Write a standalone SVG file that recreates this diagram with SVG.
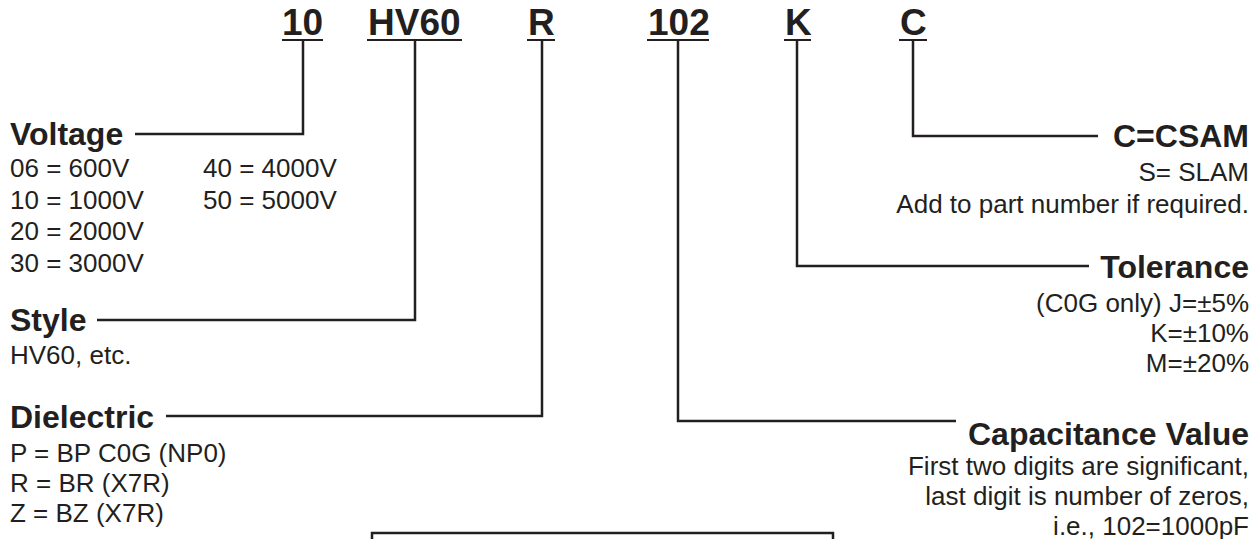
<svg xmlns="http://www.w3.org/2000/svg" width="1259" height="539" viewBox="0 0 1259 539">
<style>
text{font-family:"Liberation Sans",Arial,sans-serif;fill:#231f20}
.code{font-size:37px;font-weight:bold}
.hd{font-size:32px;font-weight:bold}
.bd{font-size:26px}
.r{text-anchor:end}
.ln{fill:none;stroke:#231f20;stroke-width:2.5}
.ul{fill:none;stroke:#231f20;stroke-width:2}
</style>
<rect width="1259" height="539" fill="#fff"/>
<g id="code">
<text class="code" x="282" y="35">10</text>
<text class="code" x="368" y="35">HV60</text>
<text class="code" x="528" y="35">R</text>
<text class="code" x="648" y="35">102</text>
<text class="code" x="785" y="35">K</text>
<text class="code" x="900" y="35">C</text>
<path class="ul" d="M282,40H323M367,40H462M527,40H555M647,40H709M784,40H811M899,40H927"/>
</g>
<g id="connectors">
<path class="ln" d="M303,40V134H135"/>
<path class="ln" d="M415,40V320H97"/>
<path class="ln" d="M542,40V416H166"/>
<path class="ln" d="M678,40V421H956"/>
<path class="ln" d="M797,40V266H1089"/>
<path class="ln" d="M913,40V136H1098"/>
</g>
<g id="voltage">
<text class="hd" x="10" y="145">Voltage</text>
<text class="bd" x="10" y="177">06 = 600V</text>
<text class="bd" x="10" y="209">10 = 1000V</text>
<text class="bd" x="10" y="240">20 = 2000V</text>
<text class="bd" x="10" y="272">30 = 3000V</text>
<text class="bd" x="203" y="177">40 = 4000V</text>
<text class="bd" x="203" y="209">50 = 5000V</text>
</g>
<g id="style">
<text class="hd" x="10" y="331">Style</text>
<text class="bd" x="10" y="364">HV60, etc.</text>
</g>
<g id="dielectric">
<text class="hd" x="10" y="427.5">Dielectric</text>
<text class="bd" x="10" y="462">P = BP C0G (NP0)</text>
<text class="bd" x="10" y="492">R = BR (X7R)</text>
<text class="bd" x="10" y="522">Z = BZ (X7R)</text>
</g>
<g id="csam">
<text class="hd r" x="1249" y="147">C=CSAM</text>
<text class="bd r" x="1249" y="181">S= SLAM</text>
<text class="bd r" x="1249" y="213">Add to part number if required.</text>
</g>
<g id="tolerance">
<text class="hd r" x="1249" y="277.5">Tolerance</text>
<text class="bd r" x="1249" y="312">(C0G only) J=±5%</text>
<text class="bd r" x="1249" y="342">K=±10%</text>
<text class="bd r" x="1249" y="372">M=±20%</text>
</g>
<g id="capacitance">
<text class="hd r" x="1249" y="445">Capacitance Value</text>
<text class="bd r" x="1249" y="475">First two digits are significant,</text>
<text class="bd r" x="1249" y="505">last digit is number of zeros,</text>
<text class="bd r" x="1249" y="535">i.e., 102=1000pF</text>
</g>
<g id="box">
<path class="ln" d="M372,545V533H833V545"/>
</g>
</svg>
